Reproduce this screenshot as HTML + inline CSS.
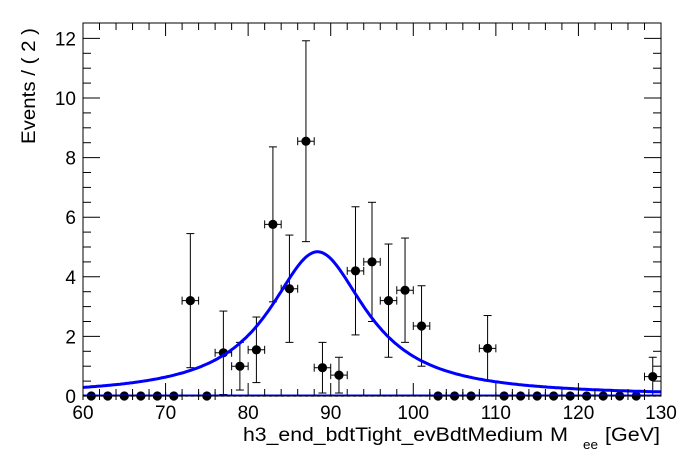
<!DOCTYPE html>
<html><head><meta charset="utf-8"><style>
html,body{margin:0;padding:0;background:#fff;}
svg{display:block;font-family:"Liberation Sans",Arial,sans-serif;}
</style></head><body>
<svg id="s" width="696" height="472" viewBox="0 0 696 472" xmlns="http://www.w3.org/2000/svg">
<rect width="696" height="472" fill="#fff"/>
<g id="g"></g>
<text x="0" y="0" transform="translate(35,144) rotate(-90)" font-size="19" textLength="116" lengthAdjust="spacingAndGlyphs">Events / ( 2 )</text>
<text x="243" y="441" font-size="19" textLength="300" lengthAdjust="spacingAndGlyphs">h3_end_bdtTight_evBdtMedium</text>
<text x="550" y="441" font-size="19" textLength="18" lengthAdjust="spacingAndGlyphs">M</text>
<text x="583" y="449" font-size="13" textLength="15" lengthAdjust="spacingAndGlyphs">ee</text>
<text x="605" y="441" font-size="19" textLength="55" lengthAdjust="spacingAndGlyphs">[GeV]</text>
</svg>
<script>
var L=83,R=661,T=23,B=396;
function X(v){return L+(v-60)*(R-L)/70;}
function Y(v){return B-v*29.8;}
var h='';
function ln(a,b,c,d,w,col){h+='<line x1="'+a+'" y1="'+b+'" x2="'+c+'" y2="'+d+'" stroke="'+(col||'#000')+'" stroke-width="'+(w||1)+'"/>';}
var pts=[];
for(var v=60;v<=130.001;v+=0.25){var dx=v-88.4;var y=4.84/(1+Math.pow(dx/7.15,2));pts.push(X(v).toFixed(1)+','+Y(y).toFixed(1));}
var data={73:[3.2,2.25],77:[1.45,1.4],79:[1.0,0.8],81:[1.55,1.1],83:[5.76,2.6],85:[3.6,1.8],87:[8.55,3.37],89:[0.95,0.85],91:[0.7,0.6],93:[4.2,2.15],95:[4.5,2.0],97:[3.2,1.9],99:[3.55,1.75],101:[2.35,1.35],109:[1.6,1.1],129:[0.65,0.65]};
for(var c=61;c<=129;c+=2){
 var d=data[c]||[0,0];var cx=X(c),cy=Y(d[0]);
 if(d[1]>0){ln(cx,Y(d[0]+d[1]),cx,Math.min(B,Y(d[0]-d[1])));ln(cx-4,Y(d[0]+d[1]),cx+4,Y(d[0]+d[1]));if(d[0]-d[1]>0)ln(cx-4,Y(d[0]-d[1]),cx+4,Y(d[0]-d[1]));}
 ln(X(c-1),cy,X(c+1),cy);ln(X(c-1),cy-4,X(c-1),cy+4);ln(X(c+1),cy-4,X(c+1),cy+4);
 h+='<circle cx="'+cx+'" cy="'+cy+'" r="4.6" fill="#000"/>';
}
h+='<polyline points="'+pts.join(' ')+'" fill="none" stroke="#0000ff" stroke-width="3"/>';
ln(L,B-0.5,R,B-0.5,2,'#0000ff');
h+='<line x1="'+L+'" y1="'+B+'" x2="'+R+'" y2="'+B+'" stroke="#000" stroke-width="1.2" stroke-dasharray="3,3"/>';
h+='<rect x="'+L+'" y="'+T+'" width="'+(R-L)+'" height="'+(B-T)+'" fill="none" stroke="#000" stroke-width="1"/>';
for(var v=60;v<=130;v+=2){var x=X(v);var maj=(v%10==0);var l=maj?13:7;ln(x,B,x,B-l);ln(x,T,x,T+l);
 if(maj)h+='<text x="'+x+'" y="419" font-size="19" text-anchor="middle">'+v+'</text>';}
for(var k=0;k<=24;k++){var v=k*0.5;var y=Y(v);if(y<T)break;var maj=(k%4==0);var l=maj?17:8;ln(L,y,L+l,y);ln(R,y,R-l,y);
 if(maj)h+='<text x="76" y="'+(y+7)+'" font-size="19" text-anchor="end">'+v+'</text>';}
document.getElementById('g').innerHTML=h;
</script>
</body></html>
